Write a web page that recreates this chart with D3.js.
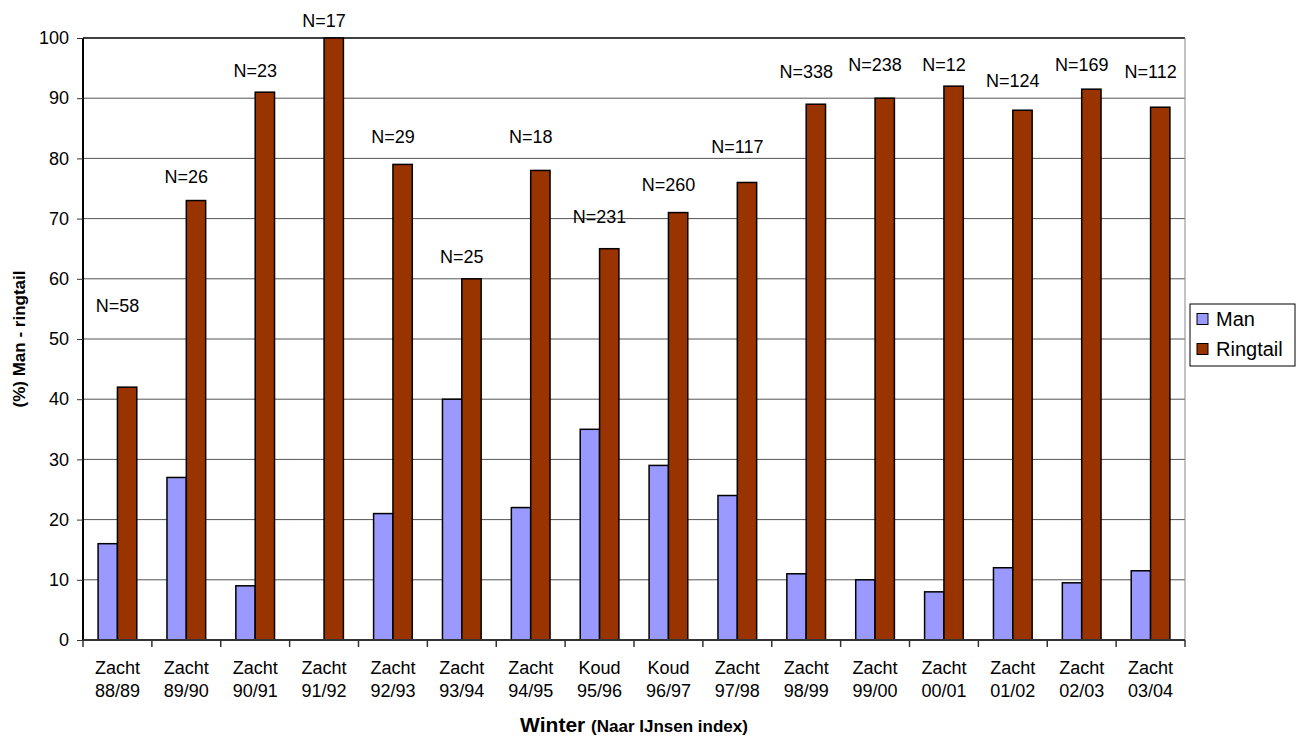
<!DOCTYPE html>
<html>
<head>
<meta charset="utf-8">
<script src="https://cdn.jsdelivr.net/npm/d3@7"></script>
<style>
  body { margin: 0; background: #fff; }
  text { font-family: Arial, 'Liberation Sans', sans-serif; }
</style>
</head>
<body>
<div id="chart"></div>
<script>
// winters and their type
const winterType = ['Zacht', 'Zacht', 'Zacht', 'Zacht', 'Zacht', 'Zacht', 'Zacht', 'Koud',
  'Koud', 'Zacht', 'Zacht', 'Zacht', 'Zacht', 'Zacht', 'Zacht', 'Zacht']
const seasons = ['88/89', '89/90', '90/91', '91/92', '92/93', '93/94', '94/95', '95/96',
  '96/97', '97/98', '98/99', '99/00', '00/01', '01/02', '02/03', '03/04']

const seriesNames = ['Man', 'Ringtail']
const manValues = [16, 27, 9, 0, 21, 40, 22, 35, 29, 24, 11, 10, 8, 12, 9.5, 11.5]
const ringtailValues = [42, 73, 91, 100, 79, 60, 78, 65, 71, 76, 89, 90, 92, 88, 91.5, 88.5]

// sample sizes, and the level (in %) where each N label sits
const sampleN = [58, 26, 23, 17, 29, 25, 18, 231, 260, 117, 338, 238, 12, 124, 169, 112]
const labelLevel = [55.5, 77, 94.5, 102.8, 83.6, 63.6, 83.6, 70.3, 75.7, 81.9, 94.4, 95.5, 95.5, 92.9, 95.5, 94.4]

const yTicks = [0, 10, 20, 30, 40, 50, 60, 70, 80, 90, 100]

const colors = { Man: '#9999ff', Ringtail: '#993300' }

const margin = { top: 38, right: 112, bottom: 96, left: 83 }
const width = 1297 - margin.left - margin.right
const height = 736 - margin.top - margin.bottom

const svg = d3
  .select('#chart')
  .append('svg')
  .attr('width', 1297)
  .attr('height', 736)

const g = svg
  .append('g')
  .attr('transform', 'translate(' + margin.left + ',' + margin.top + ')')

const xPositionScale = d3
  .scaleBand()
  .domain(seasons)
  .range([0, width])
  .paddingInner(0)
  .paddingOuter(0)

const xInner = d3
  .scaleBand()
  .domain(seriesNames)
  .range([0, xPositionScale.bandwidth()])
  .paddingInner(0)
  .paddingOuter(0.78)

const yPositionScale = d3
  .scaleLinear()
  .domain([0, 100])
  .range([height, 0])

const datapoints = seasons.map((s, i) => ({
  season: s,
  type: winterType[i],
  Man: manValues[i],
  Ringtail: ringtailValues[i],
  n: sampleN[i],
  level: labelLevel[i]
}))

// gridlines
g.selectAll('.grid')
  .data(yTicks.filter(d => d > 0))
  .enter()
  .append('line')
  .attr('class', 'grid')
  .attr('x1', 0)
  .attr('x2', width)
  .attr('y1', d => yPositionScale(d))
  .attr('y2', d => yPositionScale(d))
  .attr('stroke', d => d === 100 ? '#000' : '#555')
  .attr('stroke-width', d => d === 100 ? 1.5 : 1)

// right border of plot
g.append('line')
  .attr('x1', width)
  .attr('x2', width)
  .attr('y1', 0)
  .attr('y2', height)
  .attr('stroke', '#888')
  .attr('stroke-width', 1)

// bars
const groups = g.selectAll('.group')
  .data(datapoints)
  .enter()
  .append('g')
  .attr('class', 'group')
  .attr('transform', d => 'translate(' + xPositionScale(d.season) + ',0)')

groups.selectAll('rect')
  .data(d => seriesNames.map(k => ({ key: k, value: d[k] })).filter(d => d.value > 0))
  .enter()
  .append('rect')
  .attr('x', d => xInner(d.key))
  .attr('y', d => yPositionScale(d.value))
  .attr('width', xInner.bandwidth())
  .attr('height', d => height - yPositionScale(d.value))
  .attr('fill', d => colors[d.key])
  .attr('stroke', '#000')
  .attr('stroke-width', 1.5)

// N labels
g.selectAll('.n-label')
  .data(datapoints)
  .enter()
  .append('text')
  .attr('class', 'n-label')
  .attr('x', d => xPositionScale(d.season) + xPositionScale.bandwidth() / 2)
  .attr('y', d => yPositionScale(d.level))
  .attr('dy', '0.35em')
  .attr('text-anchor', 'middle')
  .attr('font-size', 18)
  .text(d => 'N=' + d.n)

// y axis
const yAxis = d3.axisLeft(yPositionScale)
  .tickValues(yTicks)
  .tickSize(6)
  .tickPadding(8)

g.append('g')
  .attr('class', 'axis y-axis')
  .call(yAxis)
  .call(a => a.select('.domain').attr('stroke', '#000').attr('stroke-width', 2).attr('d', 'M0,' + height + 'V0'))
  .call(a => a.selectAll('.tick line').attr('stroke', '#333'))
  .call(a => a.selectAll('.tick text').attr('font-size', 18).attr('fill', '#000')
    .style('font-family', 'Arial, Liberation Sans, sans-serif'))

// x axis with ticks between categories
const xAxisG = g.append('g')
  .attr('class', 'axis x-axis')
  .attr('transform', 'translate(0,' + height + ')')

xAxisG.append('line')
  .attr('x1', 0)
  .attr('x2', width)
  .attr('stroke', '#333')
  .attr('stroke-width', 2)

xAxisG.selectAll('.xtick')
  .data(seasons.concat(['end']))
  .enter()
  .append('line')
  .attr('class', 'xtick')
  .attr('x1', (d, i) => i * xPositionScale.step())
  .attr('x2', (d, i) => i * xPositionScale.step())
  .attr('y1', 0)
  .attr('y2', 7)
  .attr('stroke', '#333')
  .attr('stroke-width', 1.5)

const catLabels = xAxisG.selectAll('.cat')
  .data(datapoints)
  .enter()
  .append('text')
  .attr('class', 'cat')
  .attr('text-anchor', 'middle')
  .attr('font-size', 18)
  .attr('x', d => xPositionScale(d.season) + xPositionScale.bandwidth() / 2)

catLabels.append('tspan')
  .attr('x', d => xPositionScale(d.season) + xPositionScale.bandwidth() / 2)
  .attr('y', 34)
  .text(d => d.type)

catLabels.append('tspan')
  .attr('x', d => xPositionScale(d.season) + xPositionScale.bandwidth() / 2)
  .attr('y', 57)
  .text(d => d.season)

// axis titles
const xTitle = svg.append('text')
  .attr('x', margin.left + width / 2)
  .attr('y', 732)
  .attr('text-anchor', 'middle')
  .attr('font-weight', 'bold')

xTitle.append('tspan').attr('font-size', 21).text('Winter ')
xTitle.append('tspan').attr('font-size', 17).text('(Naar IJnsen index)')

svg.append('text')
  .attr('transform', 'translate(25,' + (margin.top + height / 2) + ') rotate(-90)')
  .attr('text-anchor', 'middle')
  .attr('font-size', 17)
  .attr('font-weight', 'bold')
  .text('(%) Man - ringtail')

// legend
const legend = svg.append('g')
  .attr('transform', 'translate(1190,304)')

legend.append('rect')
  .attr('width', 105)
  .attr('height', 62)
  .attr('fill', '#fff')
  .attr('stroke', '#000')
  .attr('stroke-width', 1)

const items = legend.selectAll('.item')
  .data(seriesNames)
  .enter()
  .append('g')
  .attr('class', 'item')
  .attr('transform', (d, i) => 'translate(7,' + (15 + i * 30) + ')')

items.append('rect')
  .attr('x', 0)
  .attr('y', -5.5)
  .attr('width', 11)
  .attr('height', 11)
  .attr('fill', d => colors[d])
  .attr('stroke', '#000')
  .attr('stroke-width', 1)

items.append('text')
  .attr('x', 19)
  .attr('dy', '0.35em')
  .attr('font-size', 20)
  .text(d => d)
</script>
</body>
</html>
